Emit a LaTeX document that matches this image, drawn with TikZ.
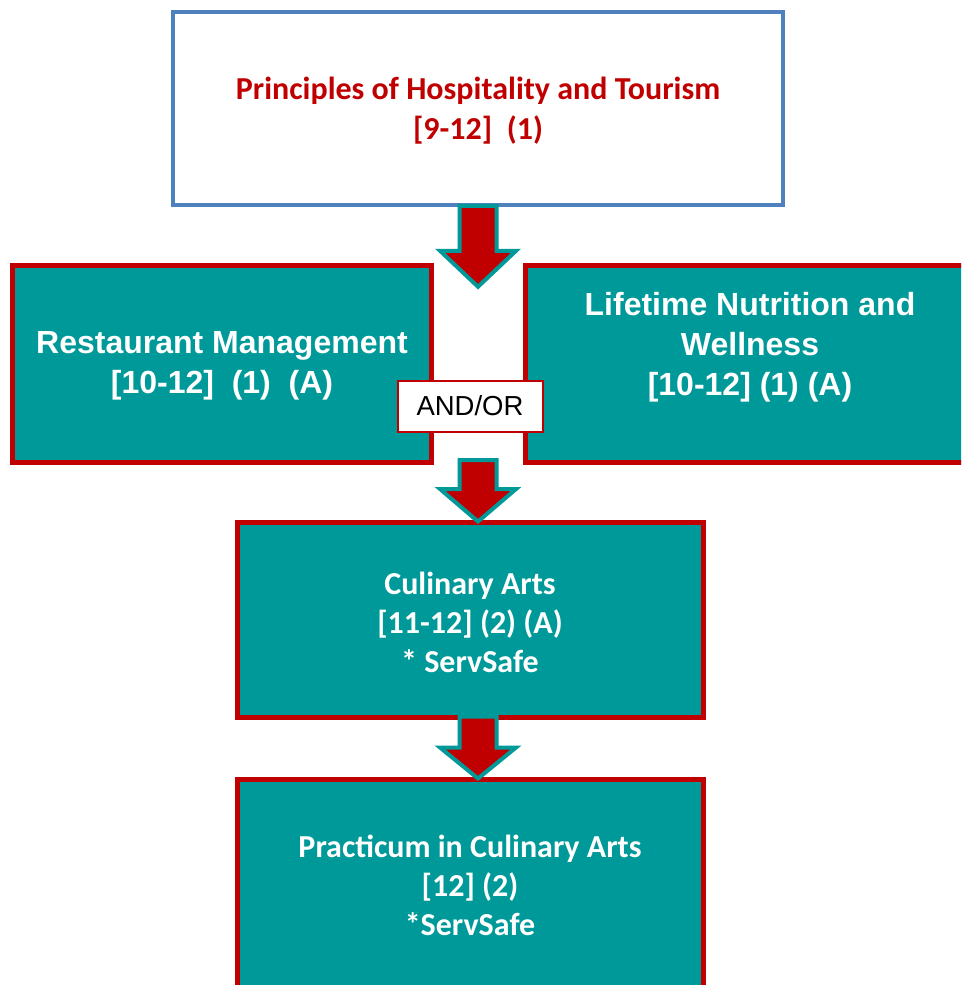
\documentclass[tikz,border=0pt]{standalone}
\usepackage{fontspec}
\newfontfamily\arialf{Liberation Sans}
\newfontfamily\calibf{Carlito}
\usetikzlibrary{calc}
\definecolor{tealc}{RGB}{0,153,153}
\definecolor{redc}{RGB}{192,0,0}
\definecolor{bluec}{RGB}{79,129,189}
\tikzset{
  redbox/.style={draw=redc, line width=5pt, fill=tealc, inner sep=0pt},
  bluebox/.style={draw=bluec, line width=3.5pt, fill=white, inner sep=0pt},
  ortext/.style={draw=redc, line width=2pt, fill=white, inner sep=0pt, font=\arialf\fontsize{27.5}{30}\selectfont},
  arialtxt/.style={text=white, align=center, font=\arialf\bfseries\fontsize{32}{40}\selectfont},
  calibtxt/.style={text=white, align=center, font=\calibf\bfseries\fontsize{32}{39}\selectfont},
  bigarrow/.style={draw=tealc, line width=4pt, fill=redc, line join=miter},
}
\begin{document}
\begin{tikzpicture}[x=1pt,y=-1pt]
\useasboundingbox (0,0) rectangle (961,985);
\clip (0,0) rectangle (961,985);
% top box
\node[bluebox, minimum width=610pt, minimum height=193pt] (top) at (478,108.5) {};
\node[calibtxt, text=redc, font=\calibf\bfseries\fontsize{32}{40}\selectfont] (toptxt) at (478,111) {Principles of Hospitality and Tourism\\ {[9-12]}\ \ (1)};
% middle boxes
\node[redbox, minimum width=419pt, minimum height=197pt] (rest) at (221.5,363.5) {};
\node[arialtxt] (resttxt) at (222,366) {Restaurant Management\\ {[10-12]}\ \ (1)\ \ (A)};
\node[redbox, minimum width=450pt, minimum height=197pt] (life) at (750,363.5) {};
\node[arialtxt] (lifetxt) at (750,347) {Lifetime Nutrition and\\ Wellness\\ {[10-12]} (1) (A)};
% culinary
\node[redbox, minimum width=466pt, minimum height=195pt] (cul) at (470,619.5) {};
\node[calibtxt] (cultxt) at (470,622) {Culinary Arts\\ {[11-12]} (2) (A)\\ * ServSafe};
% practicum
\node[redbox, minimum width=466pt, minimum height=230pt] (prac) at (470,894) {};
\node[calibtxt] (practxt) at (470,885) {Practicum in Culinary Arts\\ {[12]} (2)\\ *ServSafe};
% arrows
\draw[bigarrow] ($(top.south)+(-18.5,-1)$) -- ($(top.south)+(18.5,-1)$) -- ($(top.south)+(18.5,44)$) -- ($(top.south)+(38,44)$)
  -- ($(top.south)+(0,80)$) -- ($(top.south)+(-38,44)$) -- ($(top.south)+(-18.5,44)$) -- cycle;
\coordinate (a2) at (478,460);
\draw[bigarrow] ($(a2)+(-18.5,0)$) -- ($(a2)+(18.5,0)$) -- ($(a2)+(18.5,29)$) -- ($(a2)+(38,29)$)
  -- ($(cul.north)+(8,2)$) -- ($(a2)+(-38,29)$) -- ($(a2)+(-18.5,29)$) -- cycle;
\draw[bigarrow] ($(cul.south)+(-10.5,-3)$) -- ($(cul.south)+(26.5,-3)$) -- ($(cul.south)+(26.5,28)$) -- ($(cul.south)+(46,28)$)
  -- ($(prac.north)+(8,2)$) -- ($(cul.south)+(-30,28)$) -- ($(cul.south)+(-10.5,28)$) -- cycle;
% and/or
\node[ortext, minimum width=145pt, minimum height=51pt] (andor) at (470,406) {AND/OR};
\end{tikzpicture}
\end{document}
